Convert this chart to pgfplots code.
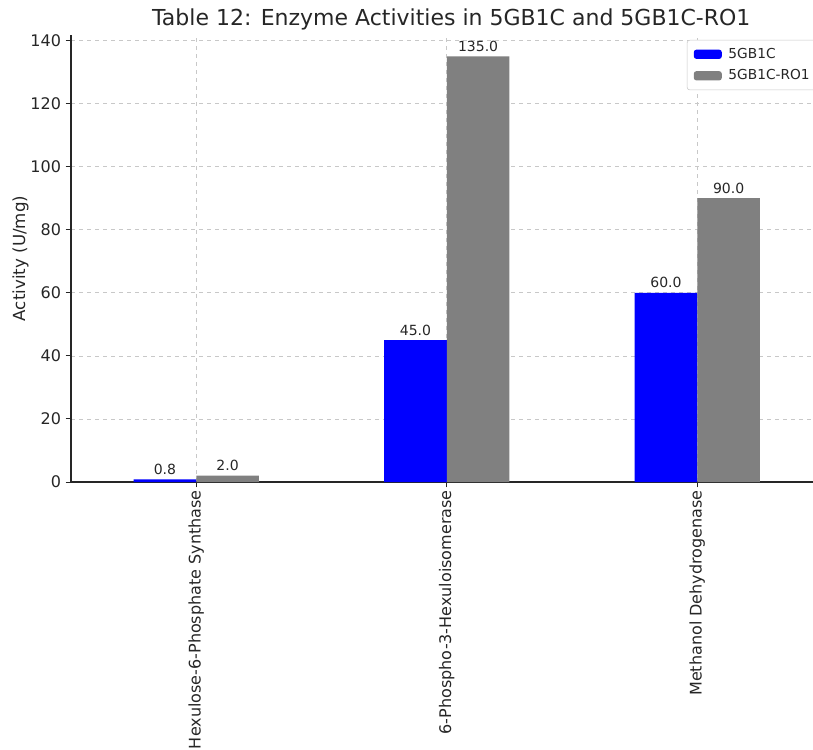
\documentclass[border=0pt]{standalone}
\usepackage{fontspec}
\setmainfont{DejaVu Sans}
\usepackage{pgfplots}
\pgfplotsset{compat=1.18}
\definecolor{txt}{HTML}{262626}
\definecolor{gridc}{HTML}{C8C8C8}
\definecolor{serA}{RGB}{0,0,255}
\definecolor{serB}{RGB}{128,128,128}
\pgfplotstableread{
x a b
0 0.8 2.0
1 45.0 135.0
2 60.0 90.0
}\datatab
\begin{document}
\begin{tikzpicture}[x=1pt,y=1pt]
\begin{axis}[
  at={(0,0)}, anchor=south west,
  scale only axis,
  width=556.5pt, height=335.25pt,
  xmin=-0.5, xmax=2.462,
  ymin=0, ymax=141.75,
  axis lines*=left,
  axis line style={draw=txt, line width=0.9pt},
  tick align=outside,
  tick style={draw=txt, line width=0.7pt},
  major tick length=4pt,
  xtick={0,1,2},
  xticklabels={Hexulose-6-Phosphate Synthase,6-Phospho-3-Hexuloisomerase,Methanol Dehydrogenase},
  xticklabel style={rotate=90, anchor=east, font=\fontsize{12}{14}\selectfont, text=txt, inner sep=2pt},
  ytick={0,20,40,60,80,100,120,140},
  yticklabel style={font=\fontsize{12}{14}\selectfont, text=txt},
  /pgf/number format/assume math mode=true,
  grid=major,
  major grid style={draw=gridc, dashed, line width=0.5pt},
  ylabel={Activity (U/mg)},
  every axis y label/.style={at={(ticklabel cs:0.5)}, rotate=90, anchor=south, yshift=-5.5pt, font=\fontsize{12.5}{14}\selectfont, text=txt},
  title={Table 12: Enzyme Activities in 5GB1C and 5GB1C-RO1},
  title style={font=\fontsize{16.5}{19}\selectfont, text=txt, yshift=-2.25pt, xshift=7pt, inner sep=0pt},
  ybar, bar width=0.25,
  nodes near coords,
  nodes near coords style={font=\fontsize{10.5}{12}\selectfont, text=txt, /pgf/number format/.cd, fixed, fixed zerofill, precision=1, assume math mode=true},
  legend style={at={(0.830,0.989)}, anchor=north west, draw=gridc, rounded corners=2pt, font=\fontsize{10.3}{12}\selectfont, text=txt, row sep=3pt, inner xsep=5pt, inner ysep=4pt, fill=white, nodes={inner xsep=5pt}},
  legend cell align=left,
  legend image code/.code={\fill[#1] (0pt,-3.5pt) rectangle (21pt,3.5pt);},
  clip=false,
]
\addplot[fill=serA, draw=none, bar shift=-0.125] table[x=x,y=a]{\datatab};
\addplot[fill=serB, draw=none, bar shift=0.125] table[x=x,y=b]{\datatab};
\legend{5GB1C,5GB1C-RO1}
\end{axis}
\pgfresetboundingbox
\path[use as bounding box] (-53.25pt,-200.25pt) rectangle (556.5pt,361.5pt);
\end{tikzpicture}
\end{document}
